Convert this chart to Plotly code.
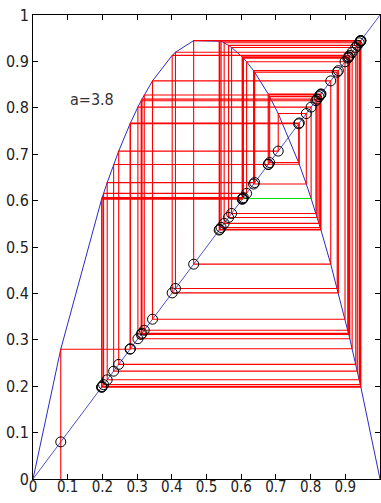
import plotly.graph_objects as go

# Iterates of the logistic map x -> a*x*(1-x), a = 3.8, as shown in the figure
orbit = [
    0.0800, 0.2797, 0.7655, 0.6820, 0.8241, 0.5509, 0.9401, 0.2138, 0.6388, 0.8767,
    0.4106, 0.9197, 0.2808, 0.7674, 0.6783, 0.8292, 0.5381, 0.9445, 0.1993, 0.6064,
    0.9070, 0.3206, 0.8276, 0.5421, 0.9433, 0.2034, 0.6156, 0.8992, 0.3444, 0.8580,
    0.4630, 0.9448, 0.1982, 0.6038, 0.9090, 0.3142, 0.8188, 0.5637, 0.9346, 0.2324,
    0.6778, 0.8299, 0.5365, 0.9449, 0.1977, 0.6028, 0.9098, 0.3117, 0.8153, 0.5723,
    0.9301, 0.2470, 0.7067, 0.7876, 0.6357, 0.8801, 0.4011, 0.9129, 0.3023, 0.8015,
    0.6046,
]
next_of_last = 0.9084          # map value at the last iterate
curve_end_x = [0.0, 1.0]       # end points of the plotted map curve
curve_end_y = [0.0, 0.0]
diag_x = [0.0, 1.0]
diag_y = [0.0, 1.0]
label_text = "a=3.8"
tick_vals = [0, 0.1, 0.2, 0.3, 0.4, 0.5, 0.6, 0.7, 0.8, 0.9, 1.0]
tick_text = ["0", "0.1", "0.2", "0.3", "0.4", "0.5", "0.6", "0.7", "0.8", "0.9", "1"]

# map curve drawn as a polyline through the (x_n, x_{n+1}) pairs, sorted by x
pairs = [(orbit[i], orbit[i + 1]) for i in range(len(orbit) - 1)]
pairs.append((orbit[-1], next_of_last))
pairs += list(zip(curve_end_x, curve_end_y))
pairs.sort()
curve_x = [p[0] for p in pairs]
curve_y = [p[1] for p in pairs]

# cobweb path
web_x = [orbit[0]]
web_y = [0.0]
for i in range(len(orbit) - 2):
    web_x += [orbit[i], orbit[i + 1]]
    web_y += [orbit[i + 1], orbit[i + 1]]
web_x.append(orbit[-2])
web_y.append(orbit[-1])
last_x = [orbit[-2], orbit[-1]]
last_y = [orbit[-1], orbit[-1]]

FONT = "Liberation Sans Narrow, DejaVu Sans Condensed, Arial, sans-serif"

fig = go.Figure()
fig.add_trace(go.Scatter(x=diag_x, y=diag_y, mode="lines",
                         line=dict(color="#5050d0", width=1), hoverinfo="skip"))
fig.add_trace(go.Scatter(x=curve_x, y=curve_y, mode="lines",
                         line=dict(color="#2a2ac4", width=1), hoverinfo="skip"))
fig.add_trace(go.Scatter(x=web_x, y=web_y, mode="lines",
                         line=dict(color="#ff0000", width=1.1)))
fig.add_trace(go.Scatter(x=last_x, y=last_y, mode="lines",
                         line=dict(color="#00e000", width=1.1)))
fig.add_trace(go.Scatter(x=orbit, y=orbit, mode="markers",
                         marker=dict(symbol="circle-open", size=10,
                                     color="black", line=dict(width=1))))

fig.add_annotation(x=0.1, y=0.817, text=label_text, showarrow=False,
                   xanchor="left", yanchor="middle",
                   font=dict(family=FONT, size=16, color="#333333"))

axis_common = dict(range=[0, 1], tickmode="array", tickvals=tick_vals, ticktext=tick_text,
                   ticks="inside", ticklen=5, tickcolor="black", tickwidth=1,
                   showline=True, linecolor="black", linewidth=1, mirror="allticks",
                   showgrid=False, zeroline=False, automargin=False)
fig.update_xaxes(**axis_common, ticklabelstandoff=-6,
                 tickfont=dict(family=FONT, size=15, color="#222222"))
fig.update_yaxes(**axis_common,
                 tickfont=dict(family=FONT, size=16, color="#222222"))

fig.update_layout(width=381, height=503, showlegend=False,
                  margin=dict(l=33, r=1, t=15, b=24),
                  paper_bgcolor="white", plot_bgcolor="white")
fig.write_html("out.html", config={"displayModeBar": False},
               post_script="document.body.style.margin='0';document.body.style.overflow='hidden';")
